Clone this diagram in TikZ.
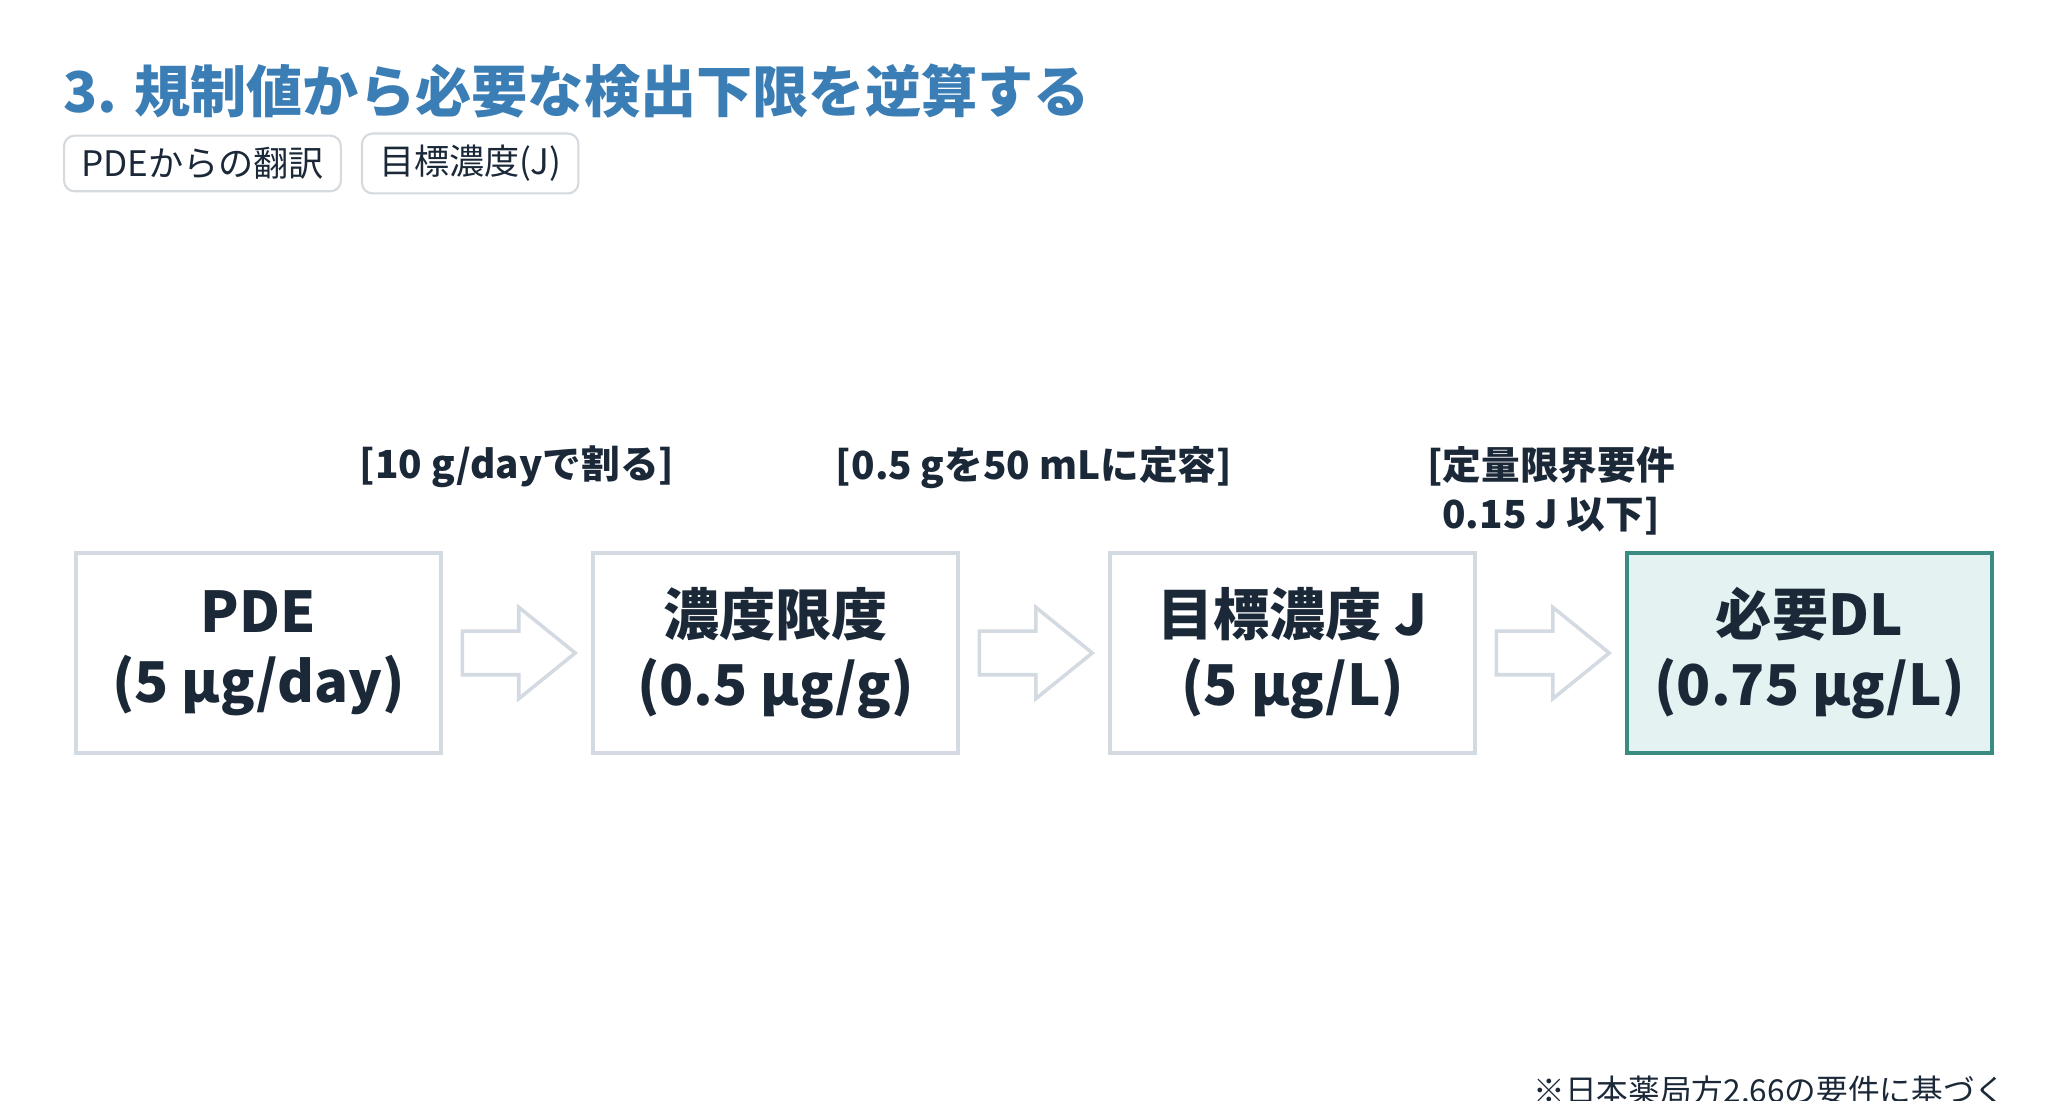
\documentclass[tikz,border=0pt]{standalone}
\usepackage{fontspec}
\setmainfont{Noto Sans CJK JP}
\usepackage{tikz}
\usetikzlibrary{positioning,calc,shapes.arrows}

\definecolor{ink}{HTML}{1B2838}
\definecolor{headblue}{HTML}{3B7EB6}
\definecolor{boxline}{HTML}{D3DAE1}
\definecolor{tagline}{HTML}{D5DADF}
\definecolor{dlline}{HTML}{3A8C82}
\definecolor{dlfill}{HTML}{E4F2F2}

\begin{document}
\begin{tikzpicture}[node distance=5.17cm, semithick]
  \tikzstyle{stepbox}=[draw=boxline, line width=1pt, fill=white, text=ink,
                       minimum width=3.65cm, minimum height=2cm, align=center,
                       font=\bfseries\fontsize{16pt}{20pt}\selectfont]
  \tikzstyle{dlbox}=[stepbox, draw=dlline, line width=1.4pt, fill=dlfill]
  \tikzstyle{blockarrow}=[single arrow, draw=boxline, line width=1pt, fill=white,
                          anchor=tail, inner xsep=0pt, inner ysep=0.2cm,
                          minimum height=1.13cm, single arrow head extend=0.24cm,
                          single arrow tip angle=78]
  \tikzstyle{note}=[text=ink, inner sep=0pt, align=center, anchor=north,
                    font=\bfseries\fontsize{11pt}{14pt}\selectfont]
  \tikzstyle{tag}=[draw=tagline, rounded corners=3pt, fill=white, text=ink,
                   inner xsep=0.17cm, minimum height=0.53cm,
                   font=\fontsize{10pt}{12pt}\selectfont]

  \useasboundingbox[fill=white] (0,0) rectangle (20.64,-11.01);

  \node[anchor=west, inner sep=0pt, text=headblue,
        font=\bfseries\fontsize{16pt}{20pt}\selectfont]
       (title) at (0.62,-0.91) {3. 規制値から必要な検出下限を逆算する};
  \node[tag, anchor=west] (tagpde)            at (0.63,-1.635) {PDEからの翻訳};
  \node[tag]              (tagj) [right=0.19cm of tagpde]     {目標濃度(J)};

  \node[stepbox] (pde)  at (2.585,-6.53) {PDE\\(5 µg/day)};
  \node[stepbox] (conc) [right of=pde]   {濃度限度\\(0.5 µg/g)};
  \node[stepbox] (targ) [right of=conc]  {目標濃度 J\\(5 µg/L)};
  \node[dlbox]   (dl)   [right of=targ]  {必要DL\\(0.75 µg/L)};

  \node[blockarrow] (a1) at ($(pde)!0.5!(conc)+(-0.565,0)$)  {};
  \node[blockarrow] (a2) at ($(conc)!0.5!(targ)+(-0.565,0)$) {};
  \node[blockarrow] (a3) at ($(targ)!0.5!(dl)+(-0.565,0)$)   {};

  \node[note] (n1) at ($(pde)!0.5!(conc)+(0,2.08)$)  {[10 g/dayで割る]};
  \node[note] (n2) at ($(conc)!0.5!(targ)+(0,2.08)$) {[0.5 gを50 mLに定容]};
  \node[note] (n3) at ($(targ)!0.5!(dl)+(0,2.08)$)   {[定量限界要件\\0.15 J 以下]};

  \node[text=ink, anchor=north, inner sep=0pt, font=\fontsize{9pt}{11pt}\selectfont]
       (foot) at (17.70,-10.75) {※日本薬局方2.66の要件に基づく};
\end{tikzpicture}
\end{document}
